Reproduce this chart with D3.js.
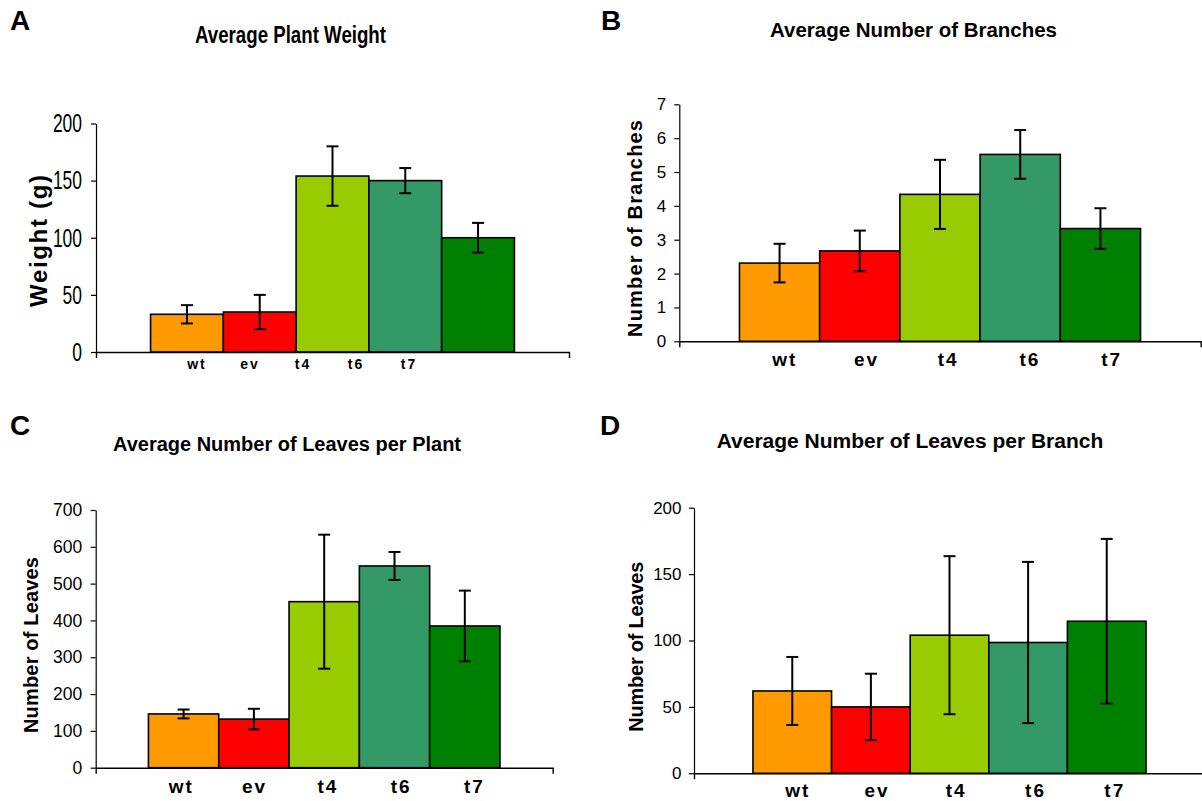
<!DOCTYPE html>
<html>
<head>
<meta charset="utf-8">
<script src="https://cdn.jsdelivr.net/npm/d3@7"></script>
<style>
  html, body { margin: 0; padding: 0; background: #fff; }
  svg { display: block; }
</style>
</head>
<body>
<svg id="chart" width="1202" height="801"></svg>
<script>
// ---------- data ----------
const categories = ["wt", "ev", "t4", "t6", "t7"];
const barColors = ["#FF9900", "#FF0000", "#99CC00", "#339966", "#008000"];

const weightMean = [33, 35, 154, 150, 100];
const weightErr = [8, 15, 26, 11, 13];
const weightTicks = [0, 50, 100, 150, 200];

const branchMean = [2.31, 2.67, 4.34, 5.52, 3.33];
const branchErr = [0.57, 0.6, 1.02, 0.72, 0.6];
const branchTicks = [0, 1, 2, 3, 4, 5, 6, 7];

const leavesPlantMean = [146, 132, 451, 548, 385];
const leavesPlantErr = [12, 28, 182, 38, 96];
const leavesPlantTicks = [0, 100, 200, 300, 400, 500, 600, 700];

const leavesBranchMean = [62, 50, 104, 98.5, 114.5];
const leavesBranchErr = [25.6, 25, 59.5, 60.7, 62];
const leavesBranchTicks = [0, 50, 100, 150, 200];

// ---------- drawing ----------
const svg = d3.select("#chart");
const SANS = "'Liberation Sans', Arial, Helvetica, sans-serif";
const NARROW = "'Liberation Sans Narrow', 'Arial Narrow', 'Liberation Sans', Arial, sans-serif";

function drawPanel(cfg) {
  const g = svg.append("g");

  // panel letter
  g.append("text")
    .attr("x", cfg.letterX).attr("y", cfg.letterY)
    .attr("font-family", SANS).attr("font-weight", "bold")
    .attr("font-size", 28).attr("fill", "#000")
    .text(cfg.letter);

  // title
  g.append("text")
    .attr("x", cfg.titleX).attr("y", cfg.titleY)
    .attr("text-anchor", "middle")
    .attr("font-family", cfg.titleFamily).attr("font-weight", "bold")
    .attr("font-size", cfg.titleSize).attr("fill", "#000")
    .attr("textLength", cfg.titleLen).attr("lengthAdjust", "spacingAndGlyphs")
    .text(cfg.title);

  // scales
  const y = d3.scaleLinear().domain([0, cfg.max]).range([cfg.yZero, cfg.yTop]);
  const x = d3.scaleBand().domain(cfg.categories)
    .range([cfg.x0, cfg.x1]).paddingInner(0).paddingOuter(0.75);
  const xLab = d3.scalePoint().domain(cfg.categories).range(cfg.labelRange);

  const data = cfg.categories.map((c, i) => ({
    cat: c, mean: cfg.means[i], err: cfg.errs[i], color: barColors[i]
  }));

  // bars
  g.append("g").selectAll("rect").data(data).join("rect")
    .attr("x", d => x(d.cat))
    .attr("y", d => y(d.mean))
    .attr("width", x.bandwidth())
    .attr("height", d => y(0) - y(d.mean))
    .attr("fill", d => d.color)
    .attr("stroke", "#000").attr("stroke-width", 1.6);

  // error bars
  const eb = g.append("g").attr("stroke", "#000").attr("stroke-width", 2);
  const cap = 6;
  data.forEach(d => {
    const cx = x(d.cat) + x.bandwidth() / 2;
    eb.append("line").attr("x1", cx).attr("x2", cx)
      .attr("y1", y(d.mean + d.err)).attr("y2", y(d.mean - d.err));
    eb.append("line").attr("x1", cx - cap).attr("x2", cx + cap)
      .attr("y1", y(d.mean + d.err)).attr("y2", y(d.mean + d.err));
    eb.append("line").attr("x1", cx - cap).attr("x2", cx + cap)
      .attr("y1", y(d.mean - d.err)).attr("y2", y(d.mean - d.err));
  });

  // y axis
  const yAxis = d3.axisLeft(y).tickValues(cfg.ticks)
    .tickSize(5).tickSizeOuter(0).tickPadding(cfg.tickPad)
    .tickFormat(d3.format("d"));
  const ya = g.append("g").attr("transform", `translate(${cfg.x0},0)`).call(yAxis);
  ya.select(".domain").attr("stroke", "#000").attr("stroke-width", 1.2);
  ya.selectAll(".tick line").attr("stroke", "#000").attr("stroke-width", 1.2);
  ya.selectAll(".tick text")
    .attr("font-family", cfg.tickFamily)
    .attr("font-size", cfg.tickSize)
    .attr("fill", "#000");
  if (cfg.digitWidth) {
    ya.selectAll(".tick text")
      .attr("textLength", d => String(d).length * cfg.digitWidth)
      .attr("lengthAdjust", "spacingAndGlyphs");
  }

  // x axis (line with end ticks pointing down)
  const xl = d3.scaleLinear().domain([0, 1]).range([cfg.x0, cfg.x1]);
  const xAxis = d3.axisBottom(xl).tickValues([]).tickSizeOuter(6);
  const xa = g.append("g").attr("transform", `translate(0,${cfg.yZero})`).call(xAxis);
  xa.select(".domain").attr("stroke", "#000").attr("stroke-width", 1.4);

  // category labels
  g.append("g").selectAll("text").data(cfg.categories).join("text")
    .attr("x", d => xLab(d))
    .attr("y", cfg.labelY)
    .attr("text-anchor", "middle")
    .attr("font-family", cfg.labelFamily).attr("font-weight", "bold")
    .attr("font-size", cfg.labelSize)
    .attr("letter-spacing", cfg.labelSpacing)
    .attr("fill", "#000")
    .text(d => d);

  // y title
  g.append("text")
    .attr("transform", `translate(${cfg.yTitleX},${cfg.yTitleY}) rotate(-90)`)
    .attr("text-anchor", "middle")
    .attr("font-family", cfg.yTitleFamily).attr("font-weight", "bold")
    .attr("font-size", cfg.yTitleSize).attr("fill", "#000")
    .attr("textLength", cfg.yTitleLen).attr("lengthAdjust", "spacing")
    .text(cfg.yTitle);
}

drawPanel({
  letter: "A", letterX: 10, letterY: 30,
  title: "Average Plant Weight", titleX: 290.5, titleY: 43, titleLen: 191, titleSize: 24, titleFamily: NARROW,
  categories, means: weightMean, errs: weightErr, ticks: weightTicks, max: 200,
  x0: 96, x1: 569, yZero: 352, yTop: 123.5,
  tickFamily: NARROW, tickSize: 26, tickPad: 9, digitWidth: 9.7,
  labelRange: [197, 409], labelY: 369, labelSize: 14, labelFamily: NARROW, labelSpacing: 2,
  yTitle: "Weight (g)", yTitleX: 46.5, yTitleY: 241, yTitleLen: 132, yTitleSize: 24, yTitleFamily: NARROW
});

drawPanel({
  letter: "B", letterX: 601, letterY: 30,
  title: "Average Number of Branches", titleX: 913.5, titleY: 37.3, titleLen: 287, titleSize: 21, titleFamily: SANS,
  categories, means: branchMean, errs: branchErr, ticks: branchTicks, max: 7,
  x0: 679.3, x1: 1200.7, yZero: 341.3, yTop: 104.3,
  tickFamily: SANS, tickSize: 17, tickPad: 8,
  labelRange: [784.7, 1111.7], labelY: 366, labelSize: 19, labelFamily: SANS, labelSpacing: 2,
  yTitle: "Number of Branches", yTitleX: 641.7, yTitleY: 228.5, yTitleLen: 217, yTitleSize: 20, yTitleFamily: SANS
});

drawPanel({
  letter: "C", letterX: 10, letterY: 435,
  title: "Average Number of Leaves per Plant", titleX: 287, titleY: 451, titleLen: 348, titleSize: 20, titleFamily: SANS,
  categories, means: leavesPlantMean, errs: leavesPlantErr, ticks: leavesPlantTicks, max: 700,
  x0: 95.7, x1: 552.7, yZero: 767.7, yTop: 510,
  tickFamily: SANS, tickSize: 17.5, tickPad: 8.5,
  labelRange: [181.3, 474.5], labelY: 793, labelSize: 19, labelFamily: SANS, labelSpacing: 2,
  yTitle: "Number of Leaves", yTitleX: 38.3, yTitleY: 645, yTitleLen: 176, yTitleSize: 20, yTitleFamily: SANS
});

drawPanel({
  letter: "D", letterX: 600, letterY: 435,
  title: "Average Number of Leaves per Branch", titleX: 910, titleY: 448, titleLen: 386.6, titleSize: 20, titleFamily: SANS,
  categories, means: leavesBranchMean, errs: leavesBranchErr, ticks: leavesBranchTicks, max: 200,
  x0: 694, x1: 1205, yZero: 773.3, yTop: 507.7,
  tickFamily: SANS, tickSize: 17, tickPad: 7.5,
  labelRange: [797.7, 1114.8], labelY: 797, labelSize: 19, labelFamily: SANS, labelSpacing: 2,
  yTitle: "Number of Leaves", yTitleX: 643.3, yTitleY: 646.7, yTitleLen: 170, yTitleSize: 20, yTitleFamily: SANS
});
</script>
</body>
</html>
